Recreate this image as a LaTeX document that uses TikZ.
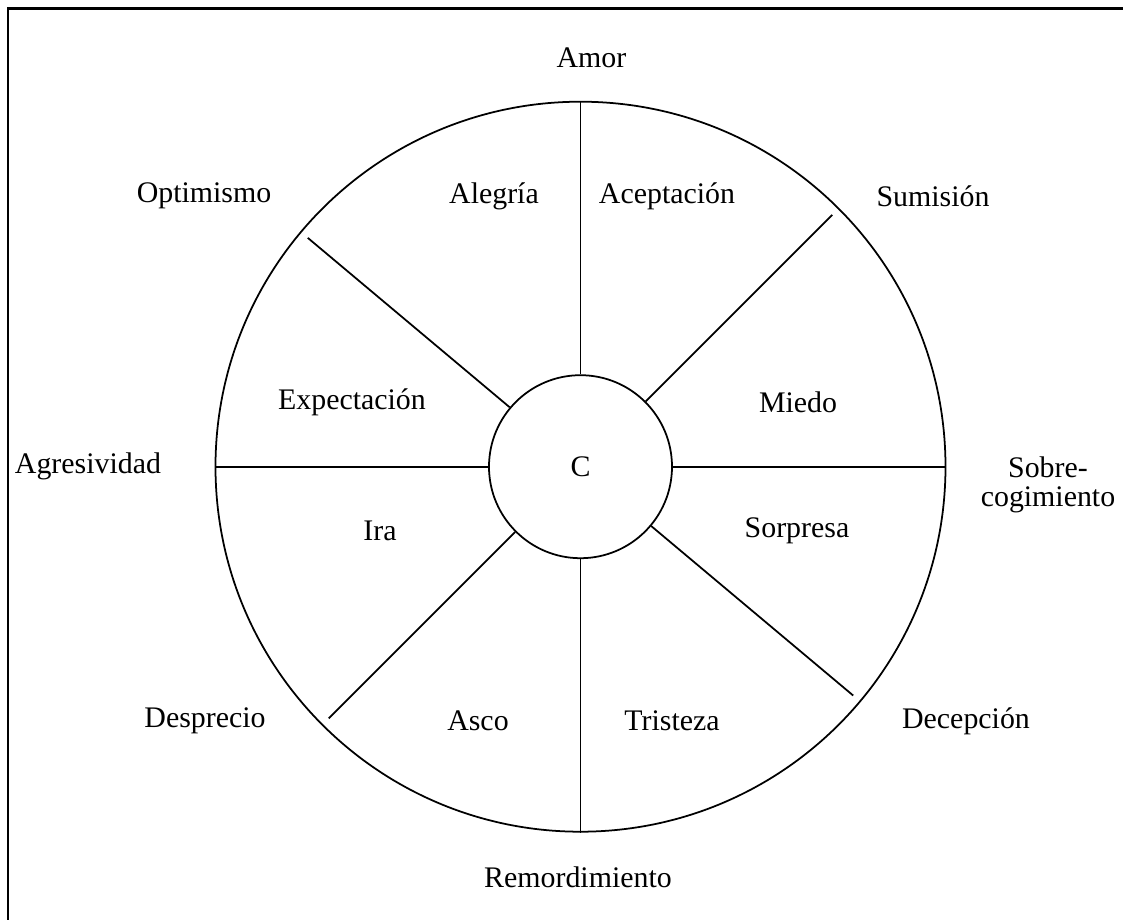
\documentclass[tikz,border=0pt]{standalone}
\usepackage{fontspec}
\setmainfont{Liberation Serif}

\begin{document}
\begin{tikzpicture}[line width=1pt, font=\fontsize{17}{16.5}\selectfont]
        \clip (-11.61,-9.046) rectangle (10.85,9.334);
        \useasboundingbox (-11.61,-9.046) rectangle (10.85,9.334);
        % frame
        \draw[line width=1.6pt] (-11.45,-10) rectangle (11.5,9.17);
        \node[draw,circle,minimum size=14.6cm] (wheel) at (0,0) {};
        \node[draw,circle,minimum size=3.66cm] (C) at (0,0) {C};
        \foreach \a in {45,140,225,320}
            \coordinate (tip\a) at (\a:7.12);
        % spokes
        \foreach \a in {0,90,180,270}
            \draw (C.\a) -- (wheel.\a);
        \foreach \a in {45,140,225,320}
            \draw (C.\a) -- (tip\a);
        \draw
            (0.22, 8.17) node (amor){Amor}
            (-7.53, 5.41) node (optimismo){Optimismo}
            (-1.73, 5.41) node (alegria){Alegría}
            (1.73, 5.41) node (aceptacion){Aceptación}
            (7.05, 5.41) node (sumision){Sumisión}
            (-4.57, 1.29) node (expectacion){Expectación}
            (4.35, 1.29) node (miedo){Miedo}
            (-9.85, 0) node (agresividad){Agresividad}
            (9.35, -0.36) node[align=center] (sobrecogimiento){Sobre-\\cogimiento}
            (-4.01, -1.29) node (ira){Ira}
            (4.33, -1.29) node (sorpresa){Sorpresa}
            (-7.51, -5.09) node (desprecio){Desprecio}
            (-2.05, -5.09) node (asco){Asco}
            (1.83, -5.09) node (tristeza){Tristeza}
            (7.71, -5.09) node (decepcion){Decepción}
            (-0.05, -8.21) node (remordimiento){Remordimiento};
\end{tikzpicture}
\end{document}
